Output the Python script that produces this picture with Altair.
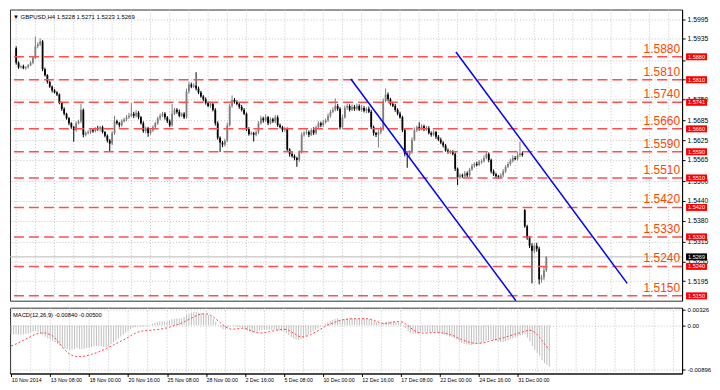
import json
import altair as alt
import pandas as pd

# ---------------- data ----------------
closes = [
    1.5862, 1.5848, 1.5851, 1.5845, 1.5848, 1.5854, 1.5862, 1.5877, 1.5912, 1.5918,
    1.5927, 1.5842, 1.5824, 1.5803, 1.5789, 1.5777, 1.5771, 1.5765, 1.5739, 1.5721,
    1.5706, 1.5692, 1.5677, 1.5665, 1.5656, 1.5677, 1.5683, 1.5718, 1.5642, 1.5647,
    1.5650, 1.5656, 1.5653, 1.5662, 1.5659, 1.5665, 1.5650, 1.5639, 1.5624, 1.5615,
    1.5647, 1.5683, 1.5677, 1.5671, 1.5683, 1.5689, 1.5695, 1.5700, 1.5706, 1.5700,
    1.5709, 1.5695, 1.5677, 1.5653, 1.5662, 1.5647, 1.5656, 1.5665, 1.5677, 1.5692,
    1.5700, 1.5706, 1.5695, 1.5683, 1.5671, 1.5706, 1.5718, 1.5712, 1.5700, 1.5706,
    1.5695, 1.5774, 1.5795, 1.5789, 1.5792, 1.5783, 1.5771, 1.5759, 1.5750, 1.5739,
    1.5730, 1.5736, 1.5718, 1.5677, 1.5633, 1.5618, 1.5612, 1.5624, 1.5671, 1.5730,
    1.5748, 1.5742, 1.5736, 1.5727, 1.5718, 1.5706, 1.5659, 1.5644, 1.5647, 1.5642,
    1.5650, 1.5677, 1.5692, 1.5686, 1.5695, 1.5677, 1.5689, 1.5683, 1.5695, 1.5671,
    1.5665, 1.5656, 1.5659, 1.5597, 1.5583, 1.5577, 1.5571, 1.5565, 1.5589, 1.5642,
    1.5647, 1.5650, 1.5642, 1.5656, 1.5647, 1.5665, 1.5677, 1.5671, 1.5680, 1.5686,
    1.5700, 1.5712, 1.5718, 1.5730, 1.5721, 1.5665, 1.5695, 1.5724, 1.5730, 1.5718,
    1.5727, 1.5721, 1.5730, 1.5718, 1.5724, 1.5715, 1.5721, 1.5712, 1.5665, 1.5647,
    1.5642, 1.5650, 1.5659, 1.5745, 1.5765, 1.5750, 1.5736, 1.5730, 1.5718, 1.5706,
    1.5695, 1.5656, 1.5583, 1.5580, 1.5589, 1.5627, 1.5656, 1.5665, 1.5659, 1.5668,
    1.5659, 1.5662, 1.5647, 1.5642, 1.5650, 1.5636, 1.5627, 1.5618, 1.5609, 1.5594,
    1.5589, 1.5591, 1.5583, 1.5538, 1.5512, 1.5518, 1.5515, 1.5524, 1.5518, 1.5536,
    1.5547, 1.5553, 1.5550, 1.5559, 1.5562, 1.5571, 1.5583, 1.5565, 1.5530, 1.5521,
    1.5515, 1.5512, 1.5518, 1.5530, 1.5544, 1.5553, 1.5562, 1.5571, 1.5568, 1.5580,
    1.5585, 1.5580, 1.5362, 1.5327, 1.5303, 1.5288, 1.5303, 1.5294, 1.5200, 1.5206,
    1.5228, 1.5269,
]
up_wick_pips = [
    6, 4, 3, 5, 3, 4, 5, 4, 30, 6,
    9, 4, 5, 3, 4, 3, 5, 4, 3, 4,
    5, 3, 4, 3, 4, 6, 5, 18, 4, 5,
    6, 4, 5, 3, 7, 4, 5, 3, 4, 5,
    6, 17, 5, 4, 6, 5, 7, 9, 33, 6,
    8, 5, 4, 6, 5, 4, 5, 6, 4, 5,
    7, 6, 5, 4, 6, 30, 6, 5, 7, 4,
    5, 9, 8, 6, 7, 41, 6, 5, 4, 6,
    5, 7, 4, 5, 6, 4, 5, 6, 8, 7,
    14, 6, 5, 4, 6, 5, 4, 6, 5, 4,
    6, 7, 8, 5, 9, 4, 6, 5, 7, 6,
    5, 4, 6, 5, 4, 6, 5, 4, 5, 7,
    6, 8, 5, 6, 9, 5, 6, 5, 8, 6,
    7, 6, 8, 23, 6, 5, 9, 7, 6, 5,
    8, 6, 7, 5, 9, 6, 5, 7, 6, 5,
    4, 6, 7, 8, 18, 6, 5, 7, 6, 5,
    6, 5, 4, 5, 6, 7, 8, 5, 15, 6,
    5, 7, 6, 5, 6, 4, 5, 6, 4, 5,
    6, 5, 4, 5, 4, 6, 5, 7, 6, 5,
    6, 5, 7, 6, 5, 8, 6, 5, 4, 6,
    5, 4, 6, 7, 5, 6, 7, 8, 6, 9,
    36, 6, 3, 5, 6, 8, 7, 9, 6, 8,
    10, 2,
]
down_wick_pips = [
    6, 5, 4, 3, 5, 4, 3, 5, 4, 6,
    5, 6, 4, 5, 4, 6, 3, 5, 4, 6,
    5, 4, 6, 5, 35, 5, 4, 6, 8, 5,
    4, 6, 5, 4, 5, 7, 4, 5, 6, 24,
    5, 6, 4, 7, 5, 4, 6, 5, 4, 7,
    5, 6, 4, 5, 7, 11, 5, 6, 4, 5,
    6, 4, 7, 5, 6, 5, 4, 6, 5, 4,
    5, 4, 6, 5, 4, 6, 5, 4, 6, 5,
    4, 6, 5, 7, 6, 29, 8, 6, 5, 4,
    6, 5, 4, 6, 5, 4, 6, 5, 4, 21,
    5, 6, 4, 7, 5, 6, 4, 5, 6, 5,
    4, 6, 5, 6, 8, 5, 7, 21, 6, 5,
    6, 5, 7, 4, 6, 5, 4, 6, 5, 4,
    5, 6, 4, 5, 6, 7, 5, 4, 6, 5,
    4, 6, 5, 4, 6, 5, 7, 4, 6, 8,
    7, 39, 6, 5, 4, 6, 5, 4, 6, 5,
    4, 6, 7, 39, 8, 5, 4, 6, 5, 4,
    6, 5, 4, 6, 5, 7, 4, 5, 6, 4,
    5, 6, 4, 7, 24, 6, 5, 4, 6, 5,
    4, 6, 5, 4, 6, 5, 4, 7, 6, 5,
    6, 5, 4, 6, 5, 4, 6, 5, 4, 5,
    6, 5, 4, 6, 7, 100, 8, 9, 15, 10,
    8, 5,
]
first_open = 1.5906
gap_opens = {212: 1.5412}

macd_main_e5 = [
    -180, -185, -190, -190, -190, -185, -180, -170, -150, -130, -115, -140,
    -170, -200, -230, -260,
    -290, -320, -350, -380, -410, -440, -460, -480,
    -500, -495, -480, -460, -480, -485, -475, -465,
    -455, -445, -430, -420, -420, -425, -440, -450,
    -420, -380, -345, -310, -270, -230, -190, -150,
    -110, -80, -50, -35, -30, -30, -25, -20,
    -10, 10, 30, 50, 70, 80, 80, 80,
    80, 100, 120, 130, 140, 140, 140, 170,
    210, 240, 260, 270, 270, 260, 250, 240,
    220, 200, 180, 130, 70, 10, -40, -80,
    -80, -50, -20, -10, -20, -30, -40, -50,
    -80, -110, -130, -140, -140, -130, -110, -100,
    -90, -90, -90, -90, -90, -100, -110, -120,
    -120, -160, -200, -240, -270, -290, -300, -280,
    -250, -220, -190, -160, -120, -90, -60, -30,
    0, 30, 60, 90, 110, 130, 140, 120,
    120, 130, 140, 140, 140, 140, 140, 140,
    140, 140, 130, 130, 110, 80, 60, 40,
    30, 50, 70, 80, 80, 80, 70, 60,
    50, 10, -60, -120, -160, -170, -170, -160,
    -150, -140, -135, -135, -135, -140, -145, -150,
    -160, -170, -190, -210, -230, -240, -260, -290,
    -330, -360, -380, -390, -400, -400, -390, -380,
    -370, -360, -340, -320, -300, -290, -300, -320,
    -330, -340, -340, -330, -310, -290, -270, -250,
    -230, -210, -195, -185, -250, -330, -420, -500,
    -560, -620, -710, -770, -810, -840,
]
macd_signal_e5 = [
    -420, -400, -380, -355, -330, -305, -280, -255, -230, -205, -185, -170,
    -160, -155, -155, -170,
    -190, -215, -260, -320, -380, -440, -500, -550,
    -590, -615, -630, -640, -640, -635, -630, -620,
    -605, -590, -575, -560, -540, -520, -500, -475,
    -450, -425, -400, -375, -350, -325, -300, -275,
    -245, -215, -185, -160, -140, -125, -115, -110,
    -105, -100, -95, -90, -85, -80, -70, -60,
    -50, -35, -20, -5, 10, 25, 45, 70,
    95, 120, 145, 170, 195, 215, 230, 235,
    235, 225, 200, 170, 130, 90, 50, 10,
    -30, -60, -75, -80, -75, -70, -65, -60,
    -65, -80, -100, -120, -140, -150, -155, -155,
    -150, -140, -130, -120, -110, -100, -90, -85,
    -80, -85, -100, -130, -160, -190, -220, -235,
    -235, -225, -210, -190, -165, -135, -110, -80,
    -50, -20, 5, 25, 45, 65, 85, 100,
    110, 120, 125, 130, 135, 135, 135, 135,
    135, 135, 135, 130, 120, 100, 80, 60,
    45, 40, 40, 45, 55, 65, 75, 78,
    75, 60, 30, -10, -50, -90, -120, -145,
    -155, -160, -160, -155, -150, -150, -150, -150,
    -150, -155, -160, -170, -185, -200, -220, -245,
    -270, -290, -310, -330, -345, -355, -365, -370,
    -370, -365, -355, -345, -330, -315, -300, -290,
    -280, -270, -255, -240, -225, -210, -195, -180,
    -165, -150, -135, -120, -105, -100, -110, -140,
    -190, -250, -310, -380, -440, -500,
]

level_prices = [1.5880, 1.5810, 1.5741, 1.5660, 1.5590, 1.5510, 1.5420, 1.5330, 1.5240, 1.5150]
level_names = ["1.5880", "1.5810", "1.5740", "1.5660", "1.5590", "1.5510", "1.5420", "1.5330", "1.5240", "1.5150"]
level_tags = ["1.5880", "1.5810", "1.5741", "1.5660", "1.5590", "1.5510", "1.5420", "1.5330", "1.5240", "1.5150"]
last_price = 1.5269
last_tag = "1.5269"

price_ticks = [1.5995, 1.5935, 1.5870, 1.5810, 1.5750, 1.5685, 1.5625, 1.5565,
               1.5500, 1.5440, 1.5380, 1.5315, 1.5255, 1.5195, 1.5135]
hidden_price_ticks = [1.5870, 1.5810]   # covered by the level tags in the reference
macd_ticks = [0.00326, 0.0, -0.00896]
macd_tick_labels = ["0.00326", "0.00", "-0.00896"]

time_label_bars = [0, 16, 32, 48, 64, 80, 96, 112, 128, 144, 160, 176, 192, 208]
time_labels = ["10 Nov 2014", "13 Nov 08:00", "18 Nov 00:00", "20 Nov 16:00", "25 Nov 08:00",
               "28 Nov 00:00", "2 Dec 16:00", "5 Dec 08:00", "10 Dec 00:00", "12 Dec 16:00",
               "17 Dec 08:00", "22 Dec 00:00", "24 Dec 16:00", "31 Dec 00:00"]
grid_bars = list(range(0, 276, 8))

channel_start_bar = [139.5, 183.3]
channel_start_price = [1.58123, 1.58947]
channel_end_bar = [208.3, 254.7]
channel_end_price = [1.51352, 1.51882]

title_text = "\u25bc GBPUSD,H4  1.5228 1.5271 1.5223 1.5269"
macd_title = "MACD(12,26,9) -0.00840 -0.00500"

# ---------------- tables ----------------
n = min(len(closes), len(up_wick_pips), len(down_wick_pips))
rows = []
prev = first_open
for i in range(n):
    o = gap_opens.get(i, prev)
    c = closes[i]
    rows.append({
        "i": i, "open": o, "close": c,
        "high": max(o, c) + up_wick_pips[i] / 10000.0,
        "low": min(o, c) - down_wick_pips[i] / 10000.0,
        "dir": "up" if c > o else "down",
    })
    prev = c
candles = pd.DataFrame(rows)

m = min(len(macd_main_e5), len(macd_signal_e5))
macd = pd.DataFrame({
    "i": list(range(m)),
    "main": [v / 1e5 for v in macd_main_e5[:m]],
    "signal": [v / 1e5 for v in macd_signal_e5[:m]],
    "zero": [0.0] * m,
})

W = 674
H1 = 292
H2 = 66
PRICE_DOMAIN = [1.51352, 1.60243]
half_box = 3.5 * (PRICE_DOMAIN[1] - PRICE_DOMAIN[0]) / H1

levels = pd.DataFrame({
    "price": level_prices, "name": level_names, "tag": level_tags,
    "top": [p + half_box for p in level_prices],
    "bot": [p - half_box for p in level_prices],
})
lastdf = pd.DataFrame({"price": [last_price], "tag": [last_tag],
                       "top": [last_price + half_box], "bot": [last_price - half_box]})
channels = pd.DataFrame({"x0": channel_start_bar, "p0": channel_start_price,
                         "x1": channel_end_bar, "p1": channel_end_price})
grid = pd.DataFrame({"i": grid_bars})
one = pd.DataFrame({"t": [title_text]})
one_macd = pd.DataFrame({"t": [macd_title]})

FONT = "Liberation Sans"
xscale = alt.Scale(domain=[-0.5, 275.5], nice=False, zero=False)
yscale = alt.Scale(domain=PRICE_DOMAIN, nice=False, zero=False)
mscale = alt.Scale(domain=[-0.00983, 0.0036], nice=False, zero=False)

price_axis = alt.Axis(orient="right", values=price_ticks, title=None,
                      labelExpr=f"indexof({json.dumps(hidden_price_ticks)}, datum.value) >= 0 ? '' : format(datum.value, '.4f')",
                      labelFont=FONT, labelFontSize=6.8, labelColor="black",
                      tickColor="black", tickSize=3, labelPadding=2,
                      domainColor="black", grid=True, gridColor="#c4c4c4",
                      gridDash=[1, 2], labelOverlap=False)
x_axis = alt.Axis(orient="bottom", values=time_label_bars, title=None,
                  labelExpr=f"{json.dumps(time_labels)}[indexof({json.dumps(time_label_bars)}, datum.value)]",
                  labelAlign="left", labelFont=FONT, labelFontSize=5.3, labelColor="black",
                  tickSize=3, tickColor="black", domainColor="black", grid=False,
                  labelPadding=1, labelFlush=False, labelOverlap=False, labelBound=False)
macd_axis = alt.Axis(orient="right", values=macd_ticks, title=None,
                     labelExpr=f"{json.dumps(macd_tick_labels)}[indexof({json.dumps(macd_ticks)}, datum.value)]",
                     labelFont=FONT, labelFontSize=6, labelColor="black",
                     tickColor="black", tickSize=3, labelPadding=2, domainColor="black",
                     grid=True, gridColor="#c4c4c4", gridDash=[1, 2], labelOverlap=False)


def PY(field):
    return alt.Y(field, type="quantitative", scale=yscale, axis=price_axis)


def PX(field):
    return alt.X(field, type="quantitative", scale=xscale, axis=None)


dir_color = alt.Color("dir:N", scale=alt.Scale(domain=["up", "down"], range=["#7d7d7d", "#000000"]), legend=None)

vgrid = alt.Chart(grid).mark_rule(color="#c4c4c4", strokeDash=[1, 2], strokeWidth=1).encode(x=PX("i"))
bidline = alt.Chart(lastdf).mark_rule(color="#b8b8b8", strokeWidth=1).encode(y=PY("price"))
wicks = alt.Chart(candles).mark_rule(strokeWidth=1).encode(x=PX("i"), y=PY("low"), y2="high", color=dir_color)
bodies = alt.Chart(candles).mark_bar(size=1.8).encode(x=PX("i"), y=PY("open"), y2="close", color=dir_color)
lvl_lines = alt.Chart(levels).mark_rule(color="#ff5050", strokeDash=[10, 5], strokeWidth=1.5).encode(y=PY("price"))
chan = alt.Chart(channels).mark_rule(color="#0000ff", strokeWidth=1.5).encode(
    x=PX("x0"), x2="x1", y=PY("p0"), y2="p1")
lvl_text = alt.Chart(levels).mark_text(align="right", baseline="alphabetic", dy=-4, font=FONT,
                                       fontSize=12, color="#ff4500").encode(
    x=alt.value(W - 2), y=PY("price"), text="name:N")
boxes = alt.Chart(levels).mark_rect(color="#ff0000").encode(
    x=alt.value(W + 4), x2=alt.value(W + 25), y=PY("top"), y2="bot")
box_text = alt.Chart(levels).mark_text(align="center", baseline="middle", font=FONT, fontSize=5.6,
                                       color="white").encode(
    x=alt.value(W + 14.5), y=PY("price"), text="tag:N")
last_box = alt.Chart(lastdf).mark_rect(color="#000000").encode(
    x=alt.value(W + 4), x2=alt.value(W + 25), y=PY("top"), y2="bot")
last_text = alt.Chart(lastdf).mark_text(align="center", baseline="middle", font=FONT, fontSize=5.6,
                                        color="white").encode(
    x=alt.value(W + 14.5), y=PY("price"), text="tag:N")
title = alt.Chart(one).mark_text(align="left", baseline="middle", font=FONT, fontSize=6,
                                 color="black").encode(x=alt.value(3), y=alt.value(7), text="t:N")

price_panel = alt.layer(vgrid, bidline, wicks, bodies, lvl_lines, chan, lvl_text,
                        boxes, box_text, last_box, last_text, title).properties(width=W, height=H1)


def MX(field):
    return alt.X(field, type="quantitative", scale=xscale, axis=x_axis)


def MY(field):
    return alt.Y(field, type="quantitative", scale=mscale, axis=macd_axis)


mgrid = alt.Chart(grid).mark_rule(color="#c4c4c4", strokeDash=[1, 2], strokeWidth=1).encode(x=MX("i"))
hist = alt.Chart(macd).mark_rule(color="#c0c0c0", strokeWidth=1).encode(x=MX("i"), y=MY("main"), y2="zero")
sig = alt.Chart(macd).mark_line(color="#ff4040", strokeDash=[2, 2], strokeWidth=1).encode(x=MX("i"), y=MY("signal"))
mtitle = alt.Chart(one_macd).mark_text(align="left", baseline="middle", font=FONT, fontSize=5.8,
                                       color="black").encode(x=alt.value(3), y=alt.value(7), text="t:N")

macd_panel = alt.layer(mgrid, hist, sig, mtitle).properties(width=W, height=H2)

chart = alt.vconcat(price_panel, macd_panel, spacing=3).properties(
    padding=0, background="white"
).configure_view(stroke="#303030", strokeWidth=1)

chart.save("out.html", embed_options={"renderer": "svg", "actions": False})
